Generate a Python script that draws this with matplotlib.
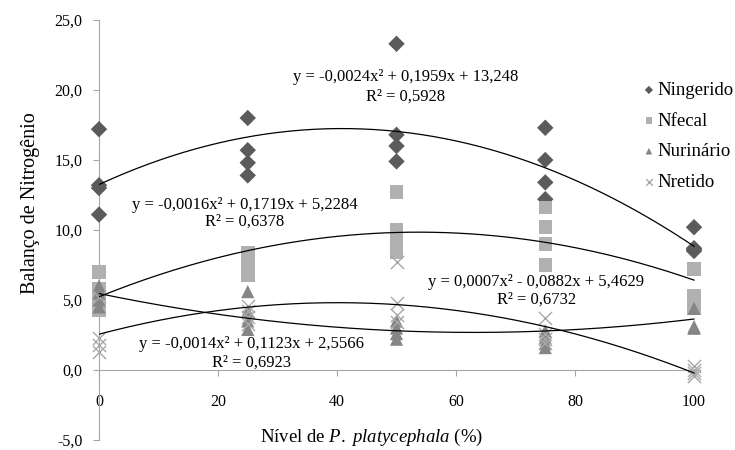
import numpy as np
import matplotlib
matplotlib.use('Agg')
import matplotlib.pyplot as plt

plt.rcParams['font.family'] = ['Liberation Serif', 'DejaVu Serif']
plt.rcParams['mathtext.fontset'] = 'custom'
plt.rcParams['mathtext.rm'] = 'Liberation Serif'
plt.rcParams['mathtext.it'] = 'Liberation Serif:italic'

# Nível de P. platycephala (%)
niveis = [0, 25, 50, 75, 100]

# Valores (4 repetições por nível)
ningerido = [[17.2, 13.2, 13.0, 11.1],
             [18.0, 15.7, 14.8, 13.9],
             [23.3, 16.8, 16.0, 14.9],
             [17.3, 15.0, 13.4, 12.2],
             [10.2, 8.7, 8.6, 8.5]]
nfecal = [[7.0, 5.8, 5.0, 4.3],
          [8.4, 7.9, 7.3, 6.8],
          [12.7, 10.0, 9.2, 8.4],
          [11.6, 10.2, 9.0, 7.5],
          [7.2, 5.3, 4.8, 4.4]]
nurinario = [[6.0, 5.5, 5.0, 4.5],
             [5.6, 4.2, 3.5, 2.9],
             [3.5, 3.0, 2.6, 2.2],
             [2.8, 2.3, 1.9, 1.6],
             [4.4, 3.1, 3.0, 3.0]]
nretido = [[5.2, 2.3, 1.8, 1.3],
           [4.6, 4.2, 3.8, 3.3],
           [7.7, 4.8, 3.9, 3.4],
           [3.7, 2.6, 2.2, 1.9],
           [0.3, 0.0, -0.2, -0.4]]

# coeficientes das linhas de tendência (x², x, const)
coef_ningerido = [-0.0024, 0.1959, 13.248]
coef_nfecal = [-0.0016, 0.1719, 5.2284]
coef_nurinario = [0.0007, -0.0882, 5.4629]
coef_nretido = [-0.0014, 0.1123, 2.5566]

eq_labels = [
    ('y = -0,0024x² + 0,1959x + 13,248', 'R² = 0,5928', 51.5, 20.9, 19.5),
    ('y = -0,0016x² + 0,1719x + 5,2284', 'R² = 0,6378', 24.5, 11.8, 10.6),
    ('y = 0,0007x² - 0,0882x + 5,4629', 'R² = 0,6732', 73.5, 6.3, 5.05),
    ('y = -0,0014x² + 0,1123x + 2,5566', 'R² = 0,6923', 25.7, 1.85, 0.55),
]

series = [
    ('Ningerido', ningerido, coef_ningerido, 'D', '#5b5b5b', 70),
    ('Nfecal', nfecal, coef_nfecal, 's', '#b0b0b0', 95),
    ('Nurinário', nurinario, coef_nurinario, '^', '#858585', 90),
    ('Nretido', nretido, coef_nretido, 'x', '#a8a8a8', 90),
]

fig = plt.figure(figsize=(7.35, 4.5), dpi=100)
ax = fig.add_axes([99 / 735, 10 / 450, 598 / 735, 420 / 450])

handles = []
for nome, vals, coef, mk, cor, sz in series:
    xs = np.repeat(niveis, [len(v) for v in vals])
    ys = np.concatenate(vals)
    if mk == 'x':
        h = ax.scatter(xs, ys, marker=mk, s=sz, color=cor, linewidths=1.0,
                       clip_on=False, zorder=3, label=nome)
    else:
        h = ax.scatter(xs, ys, marker=mk, s=sz, color=cor, edgecolors='none',
                       clip_on=False, zorder=3, label=nome)
    handles.append(h)

xx = np.linspace(0, 100, 200)
for nome, vals, coef, mk, cor, sz in series:
    ax.plot(xx, np.polyval(coef, xx), color='black', lw=0.9, zorder=4)

for eq, r2, tx, ty1, ty2 in eq_labels:
    ax.text(tx, ty1, eq, ha='center', va='center', fontsize=12, zorder=5)
    ax.text(tx, ty2, r2, ha='center', va='center', fontsize=12, zorder=5)

ax.set_xlim(0, 100.5)
ax.set_ylim(-5, 25)
ax.set_yticks(np.arange(-5, 26, 5))
ax.set_yticklabels([f'{v:.1f}'.replace('.', ',') for v in np.arange(-5, 26, 5)])
ax.set_xticks([0, 20, 40, 60, 80, 100])

for s in ['top', 'right']:
    ax.spines[s].set_visible(False)
ax.spines['bottom'].set_position(('data', 0))
ax.spines['left'].set_color('#a6a6a6')
ax.spines['bottom'].set_color('#a6a6a6')
ax.tick_params(axis='y', direction='out', length=4, color='#a6a6a6',
               labelsize=11.5, pad=8)
ax.tick_params(axis='x', direction='out', length=4, color='#a6a6a6',
               labelsize=11.5, pad=13)

ax.set_ylabel('Balanço de Nitrogênio', fontsize=14.5)
ax.yaxis.set_label_coords(-0.099, 0.564)
fig.text(0.506, 0.027, r'Nível de $\mathit{P.}$ $\mathit{platycephala}$ (%)', ha='center',
         va='center', fontsize=13.5)

leg = fig.legend(handles=handles, loc='upper left', bbox_to_anchor=(0.865, 0.835),
                 frameon=False, fontsize=13.5, markerscale=0.5, handlelength=0.6,
                 handletextpad=0.15, labelspacing=0.72, borderaxespad=0)

fig.savefig('out.png', dpi=100)
